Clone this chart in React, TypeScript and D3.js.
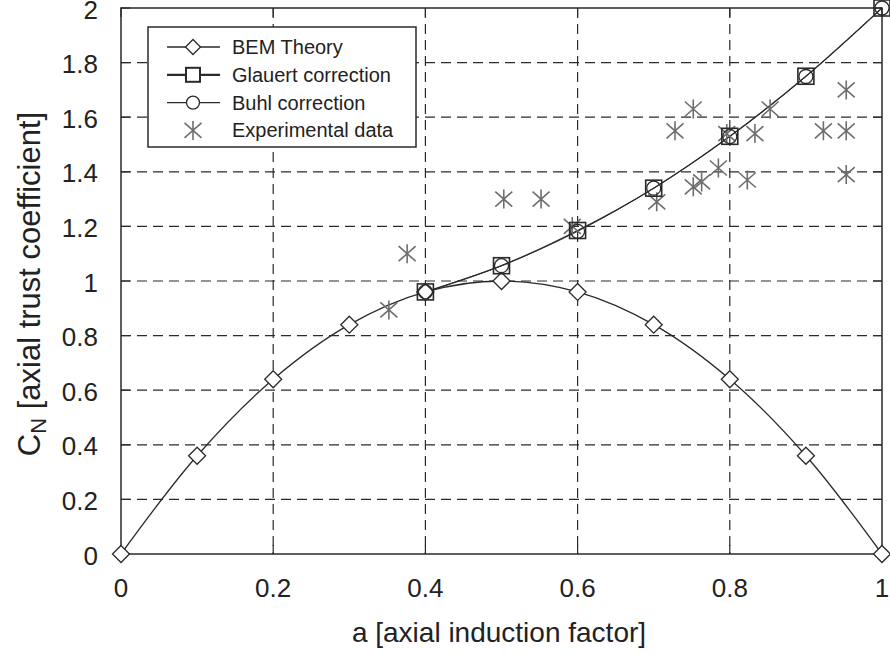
import React from "react";
import * as d3 from "d3";

const aBEM = [0, 0.1, 0.2, 0.3, 0.4, 0.5, 0.6, 0.7, 0.8, 0.9, 1.0];
const cnBEM = [0, 0.36, 0.64, 0.84, 0.96, 1.0, 0.96, 0.84, 0.64, 0.36, 0];
const aCorr = [0.4, 0.5, 0.6, 0.7, 0.8, 0.9, 1.0];
const cnGlauert = [0.96, 1.056, 1.185, 1.34, 1.53, 1.75, 2.0];
const cnBuhl = [0.96, 1.056, 1.182, 1.34, 1.529, 1.749, 2.0];
const expA = [0.352, 0.376, 0.503, 0.552, 0.593, 0.704, 0.728, 0.752, 0.752, 0.763, 0.785, 0.796, 0.823, 0.833, 0.853, 0.923, 0.953, 0.953, 0.953];
const expCN = [0.894, 1.1, 1.3, 1.3, 1.2, 1.29, 1.55, 1.63, 1.345, 1.363, 1.414, 1.54, 1.37, 1.54, 1.63, 1.55, 1.7, 1.55, 1.39];
const xTicks = [0, 0.2, 0.4, 0.6, 0.8, 1];
const yTicks = [0, 0.2, 0.4, 0.6, 0.8, 1, 1.2, 1.4, 1.6, 1.8, 2];
const legendLabels = ["BEM Theory", "Glauert correction", "Buhl correction", "Experimental data"];

const W = 890, H = 654;
const L = 121, R = 882, T = 8, B = 554;
const INK = "#2a2a2a";
const GRAY = "#6e6e6e";
const FONT = "'Liberation Sans', Arial, Helvetica, sans-serif";

const x = d3.scaleLinear().domain([0, 1]).range([L, R]);
const y = d3.scaleLinear().domain([0, 2]).range([B, T]);

function Diamond({ cx, cy, s = 8.5 }: { cx: number; cy: number; s?: number }) {
  return <path d={`M${cx},${cy - s}L${cx + s},${cy}L${cx},${cy + s}L${cx - s},${cy}Z`} fill="white" stroke={INK} strokeWidth={1.3} />;
}
function Square({ cx, cy, s = 8 }: { cx: number; cy: number; s?: number }) {
  return <rect x={cx - s} y={cy - s} width={2 * s} height={2 * s} fill="none" stroke={INK} strokeWidth={1.6} />;
}
function Circle({ cx, cy, r = 7 }: { cx: number; cy: number; r?: number }) {
  return <circle cx={cx} cy={cy} r={r} fill="none" stroke={INK} strokeWidth={1.3} />;
}
function Star({ cx, cy }: { cx: number; cy: number }) {
  const hw = 8.5, hh = 9.5, dy = 7.5;
  return (
    <path
      d={`M${cx},${cy - hh}L${cx},${cy + hh}M${cx - hw},${cy - dy}L${cx + hw},${cy + dy}M${cx - hw},${cy + dy}L${cx + hw},${cy - dy}`}
      stroke={GRAY}
      strokeWidth={1.6}
      fill="none"
    />
  );
}

export default function App() {
  const bemLine = d3
    .line<number>()
    .x((_, i) => x(aBEM[i]))
    .y((d) => y(d))
    .curve(d3.curveCatmullRom.alpha(0.5))(cnBEM) as string;
  const glLine = d3
    .line<number>()
    .x((_, i) => x(aCorr[i]))
    .y((d) => y(d))
    .curve(d3.curveCatmullRom.alpha(0.5))(cnGlauert) as string;
  const buLine = d3
    .line<number>()
    .x((_, i) => x(aCorr[i]))
    .y((d) => y(d))
    .curve(d3.curveCatmullRom.alpha(0.5))(cnBuhl) as string;

  const lgX = 148, lgY = 27, lgW = 268, lgH = 120;
  const rowY = (i: number) => 47 + i * 27.8;
  const mX = 193;

  return (
    <svg width={W} height={H} style={{ position: "absolute", left: 0, top: 0, background: "white" }} fontFamily={FONT}>
      <rect x={0} y={0} width={W} height={H} fill="white" />
      {/* grid */}
      {xTicks.slice(1, -1).map((t) => (
        <line key={"gx" + t} x1={x(t)} x2={x(t)} y1={T} y2={B} stroke={INK} strokeWidth={1.2} strokeDasharray="10,6" />
      ))}
      {yTicks.slice(1, -1).map((t) => (
        <line key={"gy" + t} x1={L} x2={R} y1={y(t)} y2={y(t)} stroke={INK} strokeWidth={1.2} strokeDasharray="10,6" />
      ))}
      {/* ticks inward */}
      {xTicks.map((t) => (
        <g key={"tx" + t}>
          <line x1={x(t)} x2={x(t)} y1={B} y2={B - 9} stroke={INK} strokeWidth={1.2} />
          <line x1={x(t)} x2={x(t)} y1={T} y2={T + 9} stroke={INK} strokeWidth={1.2} />
        </g>
      ))}
      {yTicks.map((t) => (
        <g key={"ty" + t}>
          <line x1={L} x2={L + 9} y1={y(t)} y2={y(t)} stroke={INK} strokeWidth={1.2} />
          <line x1={R} x2={R - 9} y1={y(t)} y2={y(t)} stroke={INK} strokeWidth={1.2} />
        </g>
      ))}
      {/* frame */}
      <rect x={L} y={T} width={R - L} height={B - T} fill="none" stroke={INK} strokeWidth={1.5} />

      {/* tick labels */}
      {xTicks.map((t) => (
        <text key={"lx" + t} x={x(t)} y={597} textAnchor="middle" fontSize={26} fill="#222">
          {d3.format("~g")(t)}
        </text>
      ))}
      {yTicks.map((t) => (
        <text key={"ly" + t} x={98} y={y(t) + 10.5} textAnchor="end" fontSize={26} fill="#222">
          {d3.format("~g")(t)}
        </text>
      ))}
      {/* axis titles */}
      <text x={499} y={642} textAnchor="middle" fontSize={28} fill="#222">
        a [axial induction factor]
      </text>
      <text transform={`translate(40,284) rotate(-90)`} textAnchor="middle" fontSize={31} fill="#222">
        C<tspan fontSize={22} dy={6}>N</tspan>
        <tspan dy={-6}> [axial trust coefficient]</tspan>
      </text>

      {/* series */}
      <path d={bemLine} fill="none" stroke={INK} strokeWidth={1.3} />
      <path d={glLine} fill="none" stroke={INK} strokeWidth={1.3} />
      <path d={buLine} fill="none" stroke={INK} strokeWidth={1.0} />
      {expA.map((a, i) => (
        <Star key={"e" + i} cx={x(a)} cy={y(expCN[i])} />
      ))}
      {aBEM.map((a, i) => (
        <Diamond key={"d" + i} cx={x(a)} cy={y(cnBEM[i])} />
      ))}
      {aCorr.map((a, i) => (
        <Square key={"s" + i} cx={x(a)} cy={y(cnGlauert[i])} />
      ))}
      {aCorr.map((a, i) => (
        <Circle key={"c" + i} cx={x(a)} cy={y(cnBuhl[i])} />
      ))}

      {/* legend */}
      <rect x={lgX} y={lgY} width={lgW} height={lgH} fill="white" stroke={INK} strokeWidth={1.5} />
      {legendLabels.map((lab, i) => (
        <g key={lab}>
          {i < 3 && <line x1={167} x2={220} y1={rowY(i)} y2={rowY(i)} stroke={INK} strokeWidth={i === 1 ? 2.2 : 1.3} />}
          {i === 0 && <Diamond cx={mX} cy={rowY(i)} s={7.5} />}
          {i === 1 && <rect x={mX - 7} y={rowY(i) - 7} width={14} height={14} fill="white" stroke={INK} strokeWidth={2} />}
          {i === 2 && <circle cx={mX} cy={rowY(i)} r={6.5} fill="white" stroke={INK} strokeWidth={1.3} />}
          {i === 3 && <Star cx={mX} cy={rowY(i)} />}
          <text x={232} y={rowY(i) + 7} fontSize={20} fill="#222">
            {lab}
          </text>
        </g>
      ))}
    </svg>
  );
}
